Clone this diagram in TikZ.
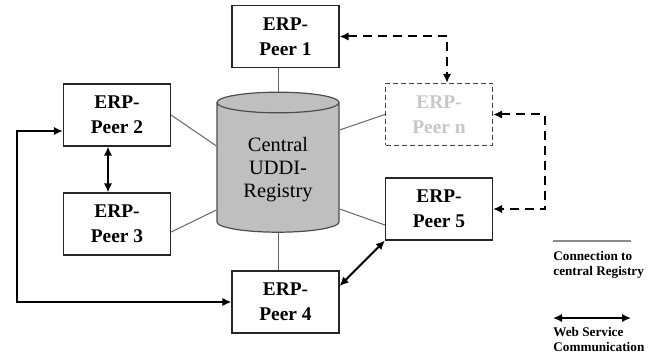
\documentclass[tikz,border=0pt]{standalone}
\usepackage{fontspec}
\setmainfont{Liberation Serif}
\usetikzlibrary{shapes,arrows,arrows.meta,positioning,calc}

\tikzset{
    peer/.style={rectangle, draw=black!85, line width=0.6pt, fill=white, minimum width=53.5pt, minimum height=31pt, align=center, inner sep=1pt, font=\bfseries\fontsize{9.7}{12.5}\selectfont},
    regline/.style={draw=black!60, line width=0.5pt},
    ws/.style={{Latex[length=4.5pt,width=4.2pt]}-{Latex[length=4.5pt,width=4.2pt]}, line width=1pt, black},
    wsdash/.style={ws, dash pattern=on 4.5pt off 3pt},
    legtext/.style={anchor=north west, align=left, inner sep=0pt, font=\bfseries\fontsize{6.6}{7.6}\selectfont}
}

\begin{document}
\begin{tikzpicture}[x=0.5pt, y=-0.5pt]
    \useasboundingbox (0,0) rectangle (659,358);

    % registry
    \node[cylinder, shape border rotate=90, draw=black!70, line width=0.6pt, fill=black!25, minimum width=61pt, minimum height=70pt, aspect=0.25, align=center, font=\fontsize{10.2}{11.5}\selectfont] (reg) at (278,170) {Central\\UDDI-\\Registry};

    % peers
    \node[peer] (p1) at (285.5,36.5) {ERP-\\Peer 1};
    \node[peer] (p2) at (117,115) {ERP-\\Peer 2};
    \node[peer] (p3) at (117,224) {ERP-\\Peer 3};
    \node[peer] (p4) at (285.5,302) {ERP-\\Peer 4};
    \node[peer] (p5) at (439,209) {ERP-\\Peer 5};
    \node[peer, draw=black!75, dash pattern=on 2.5pt off 1.5pt, text=black!22] (pn) at (439,114.5) {ERP-\\Peer n};

    % connections to registry
    \draw[regline] (reg.north) -- (reg.north |- p1.south);
    \draw[regline] (reg.south) -- (reg.south |- p4.north);
    \draw[regline] (p2.east) -- ($(reg.west)+(0,-24)$);
    \draw[regline] ([yshift=-4pt]p3.east) -- ($(reg.west)+(0,40)$);
    \draw[regline] (pn.west) -- ($(reg.east)+(0,-40)$);
    \draw[regline] ([yshift=-8pt]p5.west) -- ($(reg.east)+(0,39)$);

    % web service communication
    \draw[ws] ([xshift=-4.5pt]p2.south) -- ([xshift=-4.5pt]p3.north);
    \draw[ws] ([yshift=8pt]p4.east) -- (p5.south west);
    \coordinate (lp) at (17,200);
    \draw[ws] (p4.west) -| (lp) |- ([yshift=-8pt]p2.west);
    \draw[wsdash] (p1.east) -| ([xshift=4pt]pn.north);
    \draw[wsdash] (pn.east) -- ++(52,0) |- (p5.east);

    % legend
    \coordinate (l1a) at (553,241);
    \coordinate (l1b) at (631,241);
    \draw[draw=black!45, line width=1pt] (l1a) -- (l1b);
    \node[legtext] (lt1) at (553,251) {Connection to\\central Registry};
    \coordinate (l2a) at (553,318);
    \coordinate (l2b) at (631,318);
    \draw[ws] (l2a) -- (l2b);
    \node[legtext] (lt2) at (553,327) {Web Service\\Communication};
\end{tikzpicture}
\end{document}
